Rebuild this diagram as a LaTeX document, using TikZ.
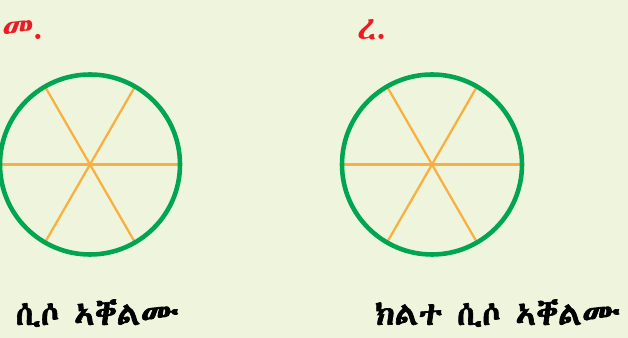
\documentclass[tikz,border=0pt]{standalone}
\usepackage{fontspec}
\usepackage{xcolor}
\usetikzlibrary{calc}
\IfFontExistsTF{Abyssinica SIL}{\newfontfamily\ethfont{Abyssinica SIL}\newfontfamily\ethbold[FakeBold=2]{Abyssinica SIL}}{%
  \IfFontExistsTF{FreeSerif}{\newfontfamily\ethfont{FreeSerif}\newfontfamily\ethbold{FreeSerif Bold}}{%
    \newfontfamily\ethfont{DejaVu Sans}\newfontfamily\ethbold{DejaVu Sans}}}
\definecolor{paper}{HTML}{EEF5DC}
\definecolor{ringgreen}{HTML}{00A551}
\definecolor{spokeorange}{HTML}{F9B041}
\definecolor{labelred}{HTML}{ED1C24}
\tikzset{
  ring/.style={draw=ringgreen, line width=2.6pt},
  spoke/.style={draw=spokeorange, line width=1.3pt},
  itemlabel/.style={anchor=base west, text=labelred, font=\ethfont\fontsize{19}{23}\selectfont},
  caption/.style={anchor=base, font=\ethbold\fontsize{18.5}{22}\selectfont},
}
\begin{document}
\begin{tikzpicture}
  \fill[paper] (0,0) rectangle (12.56,6.76);
  \useasboundingbox (0,0) rectangle (12.56,6.76);

  % left circle: one third
  \coordinate (c1) at (1.80,3.47);
  \foreach \a in {0,60,120}
    \draw[spoke] ($(c1)+(\a:1.8)$) -- ($(c1)+(\a+180:1.8)$);
  \draw[ring] (c1) circle (1.8);
  \node[itemlabel] (m) at (-0.08,5.96) {መ.};
  \node[caption] (t1) at (1.94,0.26) {ሲሶ ኣቐልሙ};

  % right circle: two thirds
  \coordinate (c2) at (8.64,3.47);
  \foreach \a in {0,60,120}
    \draw[spoke] ($(c2)+(\a:1.8)$) -- ($(c2)+(\a+180:1.8)$);
  \draw[ring] (c2) circle (1.8);
  \node[itemlabel] (r) at (7.02,5.96) {ረ.};
  \node[caption] (t2) at (9.95,0.26) {ክልተ ሲሶ ኣቐልሙ};
\end{tikzpicture}
\end{document}
